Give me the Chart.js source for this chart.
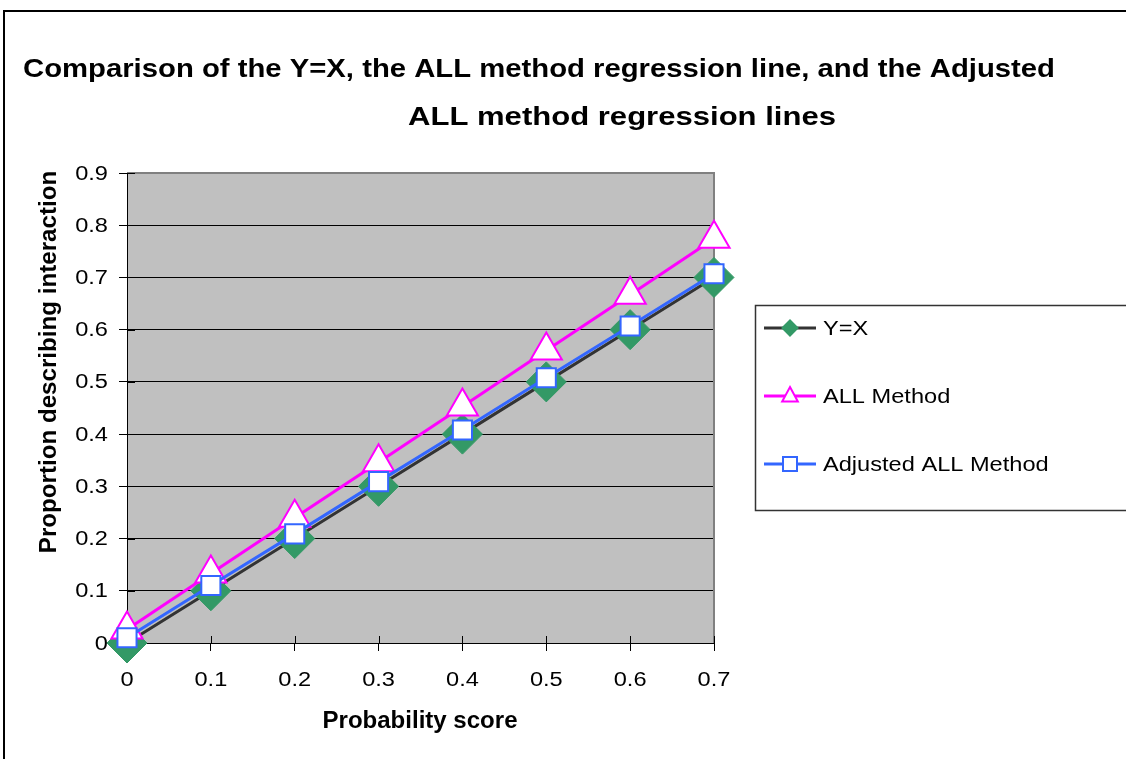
<!DOCTYPE html>
<html>
<head>
<meta charset="utf-8">
<script src="https://cdn.jsdelivr.net/npm/chart.js@4/dist/chart.umd.min.js"></script>
<style>
    html, body { margin: 0; padding: 0; background: #fff; overflow: hidden; }
    #wrap { position: relative; width: 1126px; height: 759px; }
    #frame { position: absolute; left: 3px; top: 10px; width: 1200px; height: 800px;
             border-left: 2px solid #000; border-top: 2px solid #000; }
    canvas { position: absolute; left: 0; top: 0; }
</style>
</head>
<body>
<div id="wrap">
    <div id="frame"></div>
    <canvas id="chart" width="1126" height="759"></canvas>
</div>
<script>
const titleLines = ['Comparison of the Y=X, the ALL method regression line, and the Adjusted', 'ALL method regression lines'];
const xTitle = 'Probability score';
const yTitle = 'Proportion describing interaction';
const seriesNames = ['Y=X', 'ALL Method', 'Adjusted ALL Method'];
const probScores = [0, 0.1, 0.2, 0.3, 0.4, 0.5, 0.6, 0.7];
const yEqualsX = [0, 0.1, 0.2, 0.3, 0.4, 0.5, 0.6, 0.7];
const allMethod = [0.026, 0.133, 0.24, 0.346, 0.453, 0.56, 0.667, 0.774];
const adjustedAll = [0.01, 0.11, 0.209, 0.309, 0.408, 0.508, 0.607, 0.707];

const FONT = '"Liberation Sans", Arial, sans-serif';
// the original picture's lettering is a little wider than plain Arial
const WIDE = 1.18;

function pts(ys) {
    return probScores.map((x, i) => ({ x: x, y: ys[i] }));
}

function tickFmt(v) {
    return String(+v.toFixed(1));
}

// text stretched along its own direction, anchored at (x, y)
function wideText(ctx, text, x, y, align, sx, rot) {
    ctx.save();
    ctx.translate(x, y);
    if (rot) ctx.rotate(rot);
    ctx.scale(sx, 1);
    ctx.textAlign = align;
    ctx.fillText(text, 0, 0);
    ctx.restore();
}

function marker(ctx, style, x, y, r, fill, stroke) {
    ctx.beginPath();
    if (style === 'rectRot') {
        ctx.moveTo(x - r, y); ctx.lineTo(x, y - r); ctx.lineTo(x + r, y); ctx.lineTo(x, y + r);
    } else if (style === 'triangle') {
        ctx.moveTo(x, y - r); ctx.lineTo(x + r * 0.87, y + r * 0.6); ctx.lineTo(x - r * 0.87, y + r * 0.6);
    } else {
        ctx.rect(x - r, y - r, 2 * r, 2 * r);
    }
    ctx.closePath();
    ctx.fillStyle = fill;
    ctx.fill();
    ctx.lineWidth = 2;
    ctx.strokeStyle = stroke;
    ctx.stroke();
}

const plotBox = {
    id: 'plotBox',
    beforeDraw(chart) {
        const a = chart.chartArea, ctx = chart.ctx;
        ctx.save();
        ctx.fillStyle = '#C0C0C0';
        ctx.fillRect(a.left, a.top, a.right - a.left, a.bottom - a.top);
        ctx.restore();
    },
    beforeDatasetsDraw(chart) {
        const a = chart.chartArea, ctx = chart.ctx;
        ctx.save();
        ctx.strokeStyle = '#808080';
        ctx.lineWidth = 2;
        ctx.beginPath();
        ctx.moveTo(a.left, a.top);
        ctx.lineTo(a.right, a.top);
        ctx.lineTo(a.right, a.bottom);
        ctx.stroke();
        // inner halves of the crossing tick marks
        ctx.strokeStyle = '#000';
        ctx.lineWidth = 1;
        const xs = chart.scales.x, ys = chart.scales.y;
        xs.ticks.forEach(t => {
            const px = Math.round(xs.getPixelForValue(t.value)) + 0.5;
            ctx.beginPath(); ctx.moveTo(px, a.bottom); ctx.lineTo(px, a.bottom - 7); ctx.stroke();
        });
        ys.ticks.forEach(t => {
            const py = Math.round(ys.getPixelForValue(t.value)) + 0.5;
            ctx.beginPath(); ctx.moveTo(a.left, py); ctx.lineTo(a.left + 8, py); ctx.stroke();
        });
        ctx.restore();
    }
};

const labels = {
    id: 'labels',
    afterDraw(chart) {
        const ctx = chart.ctx, a = chart.chartArea;
        const xs = chart.scales.x, ys = chart.scales.y;
        ctx.save();
        ctx.fillStyle = '#000';
        ctx.textBaseline = 'alphabetic';

        // title, two lines
        ctx.font = 'bold 25px ' + FONT;
        const w1 = ctx.measureText(titleLines[0]).width;
        const w2 = ctx.measureText(titleLines[1]).width;
        wideText(ctx, titleLines[0], 539, 77, 'center', 1032 / w1);
        wideText(ctx, titleLines[1], 622, 125, 'center', 428 / w2);

        // tick labels
        ctx.font = '20px ' + FONT;
        ctx.textBaseline = 'middle';
        ys.ticks.forEach(t => {
            wideText(ctx, tickFmt(t.value), a.left - 19, ys.getPixelForValue(t.value) + 1, 'right', WIDE);
        });
        xs.ticks.forEach(t => {
            wideText(ctx, tickFmt(t.value), xs.getPixelForValue(t.value), a.bottom + 37, 'center', WIDE);
        });

        // axis titles
        ctx.font = 'bold 23px ' + FONT;
        wideText(ctx, xTitle, 420, 722, 'center', 1.045);
        wideText(ctx, yTitle, 50, 362, 'center', 1.05, -Math.PI / 2);

        // legend box
        ctx.strokeStyle = '#333';
        ctx.lineWidth = 1.5;
        ctx.strokeRect(755.5, 305.5, 500, 205);
        ctx.font = '20px ' + FONT;
        const rowY = [328, 396, 464];
        const sizes = [7.5, 9, 7];
        chart.data.datasets.forEach((ds, i) => {
            const y = rowY[i];
            ctx.strokeStyle = ds.borderColor;
            ctx.lineWidth = 3;
            ctx.beginPath(); ctx.moveTo(764, y); ctx.lineTo(816, y); ctx.stroke();
            marker(ctx, ds.pointStyle, 790, y, sizes[i], ds.pointBackgroundColor, ds.pointBorderColor);
            ctx.fillStyle = '#000';
            wideText(ctx, ds.label, 823, y + 1, 'left', WIDE);
        });
        ctx.restore();
    }
};

new Chart(document.getElementById('chart'), {
    type: 'line',
    data: {
        datasets: [
            {
                label: seriesNames[0], data: pts(yEqualsX), order: 2,
                borderColor: '#333333', borderWidth: 3,
                pointStyle: 'rectRot', pointRadius: 20, pointBorderWidth: 1,
                pointBackgroundColor: '#339966', pointBorderColor: '#339966', clip: false
            },
            {
                label: seriesNames[1], data: pts(allMethod), order: 1,
                borderColor: '#FF00FF', borderWidth: 3,
                pointStyle: 'triangle', pointRadius: 18, pointBorderWidth: 2,
                pointBackgroundColor: '#FFFFFF', pointBorderColor: '#FF00FF', clip: false
            },
            {
                label: seriesNames[2], data: pts(adjustedAll), order: 0,
                borderColor: '#3366FF', borderWidth: 3,
                pointStyle: 'rect', pointRadius: 13.5, pointBorderWidth: 2,
                pointBackgroundColor: '#FFFFFF', pointBorderColor: '#3366FF', clip: false
            }
        ]
    },
    options: {
        responsive: false,
        animation: false,
        layout: { padding: { left: 20, top: 173, right: 412, bottom: 0 } },
        plugins: { legend: { display: false }, title: { display: false }, tooltip: { enabled: false } },
        scales: {
            x: {
                type: 'linear', min: 0, max: 0.7,
                afterFit: s => { s.height = 116; },
                ticks: { display: false, stepSize: 0.1 },
                grid: { drawOnChartArea: false, color: '#000', tickLength: 8, tickColor: '#000' },
                border: { color: '#000', width: 1 }
            },
            y: {
                min: 0, max: 0.9,
                afterFit: s => { s.width = 107; },
                ticks: { display: false, stepSize: 0.1 },
                grid: { color: '#000', tickLength: 8, tickColor: '#000' },
                border: { color: '#000', width: 1 }
            }
        }
    },
    plugins: [plotBox, labels]
});
</script>
</body>
</html>
